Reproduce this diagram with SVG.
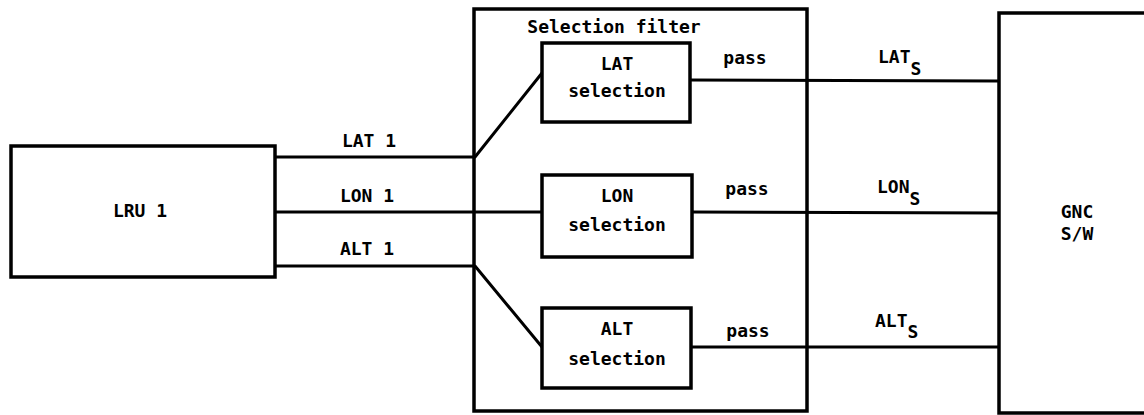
<svg xmlns="http://www.w3.org/2000/svg" width="1144" height="415" viewBox="0 0 1144 415">
<style>
.box{fill:none;stroke:#000;stroke-width:3.5}
.ln{fill:none;stroke:#000;stroke-width:3;stroke-linejoin:round}
text{font-family:"DejaVu Sans Mono","Liberation Mono",monospace;font-weight:bold;font-size:18px;fill:#000}
.c{text-anchor:middle}
</style>
<rect width="1144" height="415" fill="#fff"/>
<g id="lru1">
<rect class="box" x="11" y="146" width="264" height="131"/>
<text class="c" x="140" y="217">LRU 1</text>
</g>
<g id="selection-filter">
<rect class="box" x="474" y="9" width="333" height="402"/>
<text class="c" x="614" y="33">Selection filter</text>
</g>
<g id="lat-selection">
<rect class="box" x="542" y="43" width="148" height="79"/>
<text class="c" x="617" y="70">LAT</text>
<text class="c" x="617" y="97">selection</text>
</g>
<g id="lon-selection">
<rect class="box" x="542" y="175" width="150" height="82"/>
<text class="c" x="617" y="202">LON</text>
<text class="c" x="617" y="231">selection</text>
</g>
<g id="alt-selection">
<rect class="box" x="542" y="308" width="149" height="80"/>
<text class="c" x="617" y="335">ALT</text>
<text class="c" x="617" y="365">selection</text>
</g>
<g id="gnc-sw">
<rect class="box" x="999" y="13" width="200" height="400"/>
<text class="c" x="1077" y="218">GNC</text>
<text class="c" x="1077" y="240">S/W</text>
</g>
<g id="connectors">
<polyline class="ln" points="275,157 475,157 542,73"/>
<line class="ln" x1="275" y1="212" x2="542" y2="212"/>
<polyline class="ln" points="275,266 475,266 542,347"/>
<line class="ln" x1="690" y1="80" x2="999" y2="81"/>
<line class="ln" x1="692" y1="212" x2="999" y2="213"/>
<line class="ln" x1="691" y1="347" x2="999" y2="347"/>
<text class="c" x="369" y="147">LAT 1</text>
<text class="c" x="367" y="202">LON 1</text>
<text class="c" x="367" y="255">ALT 1</text>
<text class="c" x="745" y="64">pass</text>
<text class="c" x="747" y="195">pass</text>
<text class="c" x="748" y="337">pass</text>
<text x="878" y="63">LAT<tspan dy="12">S</tspan></text>
<text x="877" y="193">LON<tspan dy="12">S</tspan></text>
<text x="875" y="327">ALT<tspan dy="11">S</tspan></text>
</g>
</svg>
